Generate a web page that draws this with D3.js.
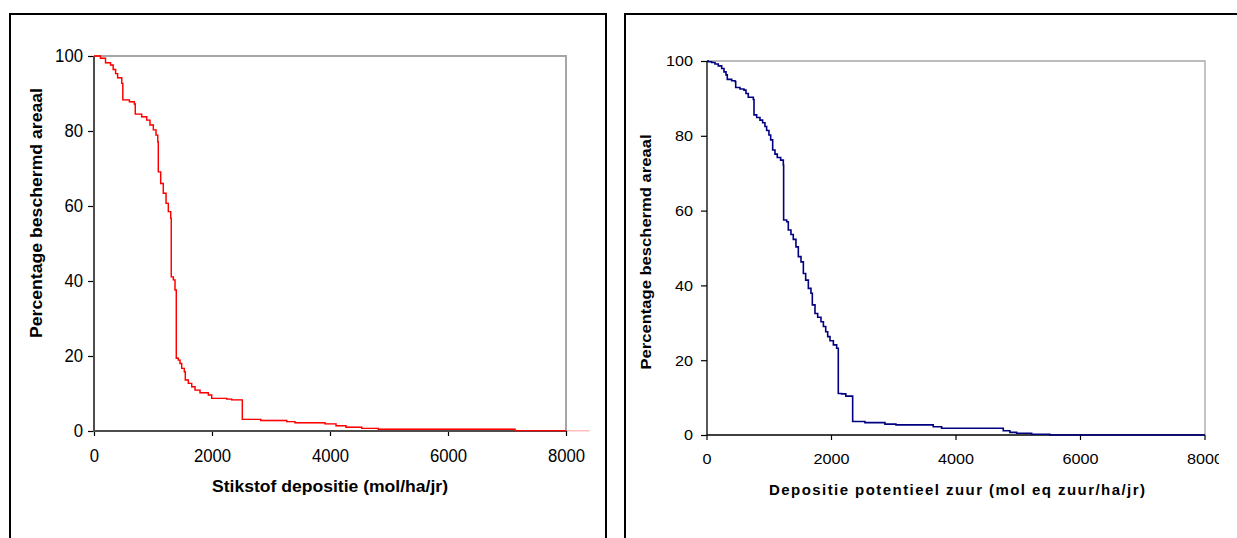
<!DOCTYPE html>
<html>
<head>
<meta charset="utf-8">
<script src="https://cdn.jsdelivr.net/npm/d3@7"></script>
<style>
  body { margin: 0; background: #fff; }
  svg { display: block; }
  text { font-family: "Liberation Sans", Arial, sans-serif; fill: #000; }
</style>
</head>
<body>
<svg id="chart" width="1237" height="538"></svg>
<script>
// stikstof depositie (mol/ha/jr) -> percentage beschermd areaal
var nDepX = [0, 110, 195, 280, 325, 366, 400, 470, 488, 600, 684, 700, 808, 893, 949, 1006, 1051, 1080,
  1090, 1130, 1175, 1221, 1260, 1300, 1310, 1345, 1373, 1395, 1429, 1458, 1486, 1531, 1548, 1599, 1656,
  1712, 1797, 1938, 1995, 2249, 2334, 2514, 2826, 3266, 3407, 3915, 4102, 4271, 4538, 4819, 7136, 7950, 8400];
var nDepY = [100, 99.4, 98.2, 97.6, 96.4, 95.3, 94.2, 92.7, 88.3, 87.8, 87.2, 84.5, 83.8, 82.9, 81.6, 80.3, 78.9, 77.1,
  69.1, 66, 63.4, 60.7, 58.5, 56.7, 41.1, 40.3, 37.6, 19.4, 18.9, 18.0, 16.7, 15.8, 13.6, 12.7, 11.8,
  10.9, 10.2, 9.6, 8.7, 8.5, 8.3, 3.1, 2.8, 2.5, 2.2, 1.9, 1.4, 1.0, 0.7, 0.45, 0.1, 0.05, 0.05];

// depositie potentieel zuur (mol eq zuur/ha/jr) -> percentage beschermd areaal
var zuurX = [0, 21, 75, 128, 181, 236, 273, 305, 326, 397, 450, 461, 530, 594, 626, 663, 744, 755, 798, 851,
  894, 931, 958, 995, 1023, 1055, 1092, 1129, 1183, 1226, 1231, 1280, 1306, 1349, 1386, 1429, 1467, 1510,
  1548, 1585, 1628, 1670, 1692, 1735, 1778, 1831, 1870, 1907, 1939, 1976, 2030, 2083, 2109, 2163, 2230,
  2340, 2537, 2859, 3035, 3634, 3769, 4759, 4866, 4974, 5215, 5509, 8000];
var zuurY = [100, 99.8, 99.6, 99.2, 98.7, 98.0, 97.1, 96.3, 95.1, 94.7, 94.5, 92.9, 92.5, 92.2, 91.3, 90.3, 89.7, 85.6, 84.9, 84.2,
  83.5, 82.5, 81.4, 80.2, 78.9, 76.2, 75.1, 74.2, 73.5, 72.2, 57.5, 57.0, 54.8, 53.6, 52.3, 50.3, 47.7, 46.3,
  43.2, 41.4, 39.2, 37.9, 34.8, 32.5, 31.5, 30.3, 29.0, 27.6, 26.3, 25.2, 24.1, 23.2, 11.1, 11.0, 10.4,
  3.6, 3.3, 2.9, 2.7, 2.2, 1.8, 1.15, 0.7, 0.45, 0.2, 0, 0];

var xTicks = [0, 2000, 4000, 6000, 8000];
var yTicks = [0, 20, 40, 60, 80, 100];

var svg = d3.select("#chart");

function drawPanel(o) {
  var g = svg.append("g");

  // kader om de grafiek
  g.append("rect")
    .attr("x", o.box[0]).attr("y", o.box[1])
    .attr("width", o.box[2]).attr("height", o.box[3])
    .attr("fill", "none").attr("stroke", "#000").attr("stroke-width", 2);

  var x = d3.scaleLinear().domain([0, 8000]).range(o.xr);
  var y = d3.scaleLinear().domain([0, 100]).range(o.yr);

  // grijze rand van plotgebied
  g.append("path")
    .attr("d", "M" + x(0) + "," + y(100) + "H" + x(8000) + "V" + y(0))
    .attr("fill", "none").attr("stroke", "#a6a6a6").attr("stroke-width", o.frameW);

  var pts = o.xs.map(function(v, i) { return [v, o.ys[i]]; });
  var line = d3.line()
    .x(function(d) { return x(d[0]); })
    .y(function(d) { return y(d[1]); })
    .curve(d3.curveStepAfter);

  svg.append("clipPath").attr("id", "plot-" + o.id)
    .append("rect").attr("x", x(0)).attr("y", y(100) - 2)
    .attr("width", x(8000) - x(0)).attr("height", y(0) - y(100) + 4);

  if (o.fade) {
    g.append("path").datum(pts)
      .attr("fill", "none").attr("stroke", o.color).attr("stroke-opacity", 0.25)
      .attr("stroke-width", o.lineW).attr("d", line);
  }

  // assen
  var xAxis = g.append("g")
    .attr("transform", "translate(0," + y(0) + ")")
    .call(d3.axisBottom(x).tickValues(xTicks).tickFormat(d3.format("d"))
      .tickSize(5).tickPadding(o.xPad).tickSizeOuter(0));
  var yAxis = g.append("g")
    .attr("transform", "translate(" + x(0) + ",0)")
    .call(d3.axisLeft(y).tickValues(yTicks).tickFormat(d3.format("d"))
      .tickSize(6).tickPadding(o.yPad).tickSizeOuter(0));
  [xAxis, yAxis].forEach(function(a) {
    a.select(".domain").remove();
    a.attr("font-family", null).attr("font-size", null);
    a.selectAll(".tick line").attr("stroke", "#000").attr("stroke-width", 1.2);
    a.selectAll(".tick text").attr("font-size", o.tickFont)
      .attr("textLength", function(d) { return String(d).length * o.digitW; })
      .attr("lengthAdjust", "spacingAndGlyphs");
  });

  if (o.clipRight) {
    // het laatste label valt half buiten het beeld
    svg.append("clipPath").attr("id", "clip-" + o.id)
      .append("rect").attr("x", 0).attr("y", 0).attr("width", o.clipRight).attr("height", 538);
    xAxis.attr("clip-path", "url(#clip-" + o.id + ")");
    xAxis.attr("transform", null);
    xAxis.selectAll(".tick").attr("transform", function(d) { return "translate(" + x(d) + "," + y(0) + ")"; });
  }

  g.append("path")
    .attr("d", "M" + x(0) + "," + y(100) + "V" + y(0) + "H" + x(8000))
    .attr("fill", "none").attr("stroke", o.axisColor).attr("stroke-width", o.axisW);

  g.append("path").datum(pts)
    .attr("clip-path", "url(#plot-" + o.id + ")")
    .attr("fill", "none").attr("stroke", o.color)
    .attr("stroke-width", o.lineW).attr("d", line);

  g.append("text")
    .attr("x", o.xTitle[0]).attr("y", o.xTitle[1])
    .attr("text-anchor", "middle").attr("font-weight", "bold")
    .attr("font-size", o.titleFont)
    .attr("textLength", o.xTitle[2]).attr("lengthAdjust", o.xAdjust)
    .text(o.xLabel);

  g.append("text")
    .attr("transform", "translate(" + o.yTitle[0] + "," + o.yTitle[1] + ") rotate(-90)")
    .attr("text-anchor", "middle").attr("font-weight", "bold")
    .attr("font-size", o.yTitleFont)
    .attr("textLength", o.yTitle[2]).attr("lengthAdjust", "spacingAndGlyphs")
    .text("Percentage beschermd areaal");
}

drawPanel({
  id: "n", box: [10, 14, 596, 560],
  xr: [94, 566], yr: [431, 56],
  xs: nDepX, ys: nDepY, color: "#ff0000", lineW: 1.4, fade: true,
  axisColor: "#4d4d4d", axisW: 2, frameW: 2,
  tickFont: "17.5px", digitW: 9.3, xPad: 14, yPad: 5,
  titleFont: "16.5px", yTitleFont: "16.5px", xAdjust: "spacingAndGlyphs",
  xTitle: [330, 492, 236], yTitle: [42, 213, 250],
  xLabel: "Stikstof depositie (mol/ha/jr)"
});

drawPanel({
  id: "z", box: [625, 14, 700, 560], clipRight: 1219,
  xr: [707, 1205], yr: [435, 61],
  xs: zuurX, ys: zuurY, color: "#000080", lineW: 1.6, fade: false,
  axisColor: "#000", axisW: 1.3, frameW: 1.3,
  tickFont: "15px", digitW: 9, xPad: 13.5, yPad: 8,
  titleFont: "15px", yTitleFont: "15px", xAdjust: "spacing",
  xTitle: [957, 495, 376], yTitle: [651, 252, 235],
  xLabel: "Depositie potentieel zuur (mol eq zuur/ha/jr)"
});
</script>
</body>
</html>
